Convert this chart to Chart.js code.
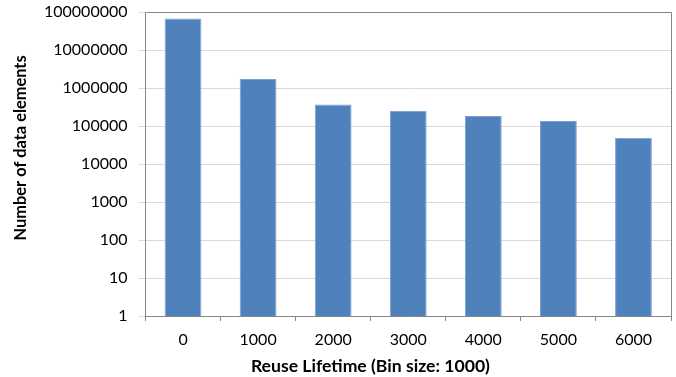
<!DOCTYPE html>
<html>
<head>
<meta charset="utf-8">
<script src="https://cdn.jsdelivr.net/npm/chart.js@4/dist/chart.umd.min.js"></script>
<style>
  html, body { margin: 0; padding: 0; background: #ffffff; }
  #wrap { width: 676px; height: 377px; position: relative; }
</style>
</head>
<body>
<div id="wrap"><canvas id="c" width="676" height="377"></canvas></div>
<script>
// Reuse-lifetime histogram (bin size 1000), log-scaled counts
const categories = ['0', '1000', '2000', '3000', '4000', '5000', '6000'];
const elementCounts = [67000000, 1730000, 370000, 252000, 182000, 135000, 49000];
const yTickValues = [1, 10, 100, 1000, 10000, 100000, 1000000, 10000000, 100000000];
const xAxisTitle = 'Reuse Lifetime (Bin size: 1000)';
const yAxisTitle = 'Number of data elements';

const FONT = "Lato, 'Open Sans', 'Liberation Sans', sans-serif";
const AXIS_GREY = '#868686';
const GRID_GREY = '#d9d9d9';

// Outline the top and right edges of the plot area
const frame = {
  id: 'frame',
  afterDatasetsDraw(chart) {
    const { ctx, chartArea: a } = chart;
    ctx.save();
    ctx.strokeStyle = AXIS_GREY;
    ctx.lineWidth = 1;
    ctx.beginPath();
    ctx.moveTo(Math.round(a.left) + 0.5, Math.round(a.top) + 0.5);
    ctx.lineTo(Math.round(a.right) + 0.5, Math.round(a.top) + 0.5);
    ctx.lineTo(Math.round(a.right) + 0.5, Math.round(a.bottom) + 0.5);
    ctx.stroke();
    ctx.restore();
  }
};

// Axis titles, placed like the spreadsheet layout (slightly left / above centre)
const axisTitles = {
  id: 'axisTitles',
  afterDraw(chart) {
    const { ctx, chartArea: a } = chart;
    ctx.save();
    ctx.fillStyle = '#000000';
    ctx.textAlign = 'center';
    ctx.textBaseline = 'middle';
    ctx.font = "bold 17.6px " + FONT;
    ctx.fillText(xAxisTitle, a.left + (a.right - a.left) * 0.428, 366);
    ctx.translate(21, a.top + (a.bottom - a.top) * 0.447);
    ctx.rotate(-Math.PI / 2);
    ctx.font = "bold 16.4px " + FONT;
    ctx.fillText(yAxisTitle, 0, 0);
    ctx.restore();
  }
};

new Chart(document.getElementById('c'), {
  type: 'bar',
  data: {
    labels: categories,
    datasets: [{
      data: elementCounts,
      backgroundColor: '#4f81bd',
      borderColor: '#7fa0cc',
      borderWidth: 1,
      barPercentage: 0.49,
      categoryPercentage: 1.0
    }]
  },
  options: {
    responsive: false,
    animation: false,
    devicePixelRatio: 1,
    layout: { padding: { left: 4, right: 5, top: 12, bottom: 0 } },
    plugins: { legend: { display: false }, tooltip: { enabled: false } },
    scales: {
      x: {
        offset: true,
        grid: {
          offset: true,
          drawOnChartArea: false,
          drawTicks: true,
          tickLength: 5,
          tickColor: AXIS_GREY
        },
        border: { display: true, color: AXIS_GREY, width: 1 },
        ticks: {
          color: '#000000',
          padding: 9,
          font: { family: FONT, size: 16 }
        },
        afterFit(scale) {
          scale.height = 61;
          scale.paddingLeft = 0;
          scale.paddingRight = 0;
        }
      },
      y: {
        type: 'logarithmic',
        min: 1,
        max: 100000000,
        afterBuildTicks(scale) {
          scale.ticks = yTickValues.map(v => ({ value: v }));
        },
        grid: {
          color: GRID_GREY,
          lineWidth: 1,
          drawTicks: true,
          tickLength: 7,
          tickColor: GRID_GREY
        },
        border: { display: true, color: AXIS_GREY, width: 1 },
        ticks: {
          color: '#000000',
          padding: 11,
          font: { family: FONT, size: 16 },
          callback: (v) => String(v)
        },
        afterFit(scale) {
          scale.width = 141.5;
          scale.paddingTop = 0;
          scale.paddingBottom = 0;
        }
      }
    }
  },
  plugins: [frame, axisTitles]
});
</script>
</body>
</html>
